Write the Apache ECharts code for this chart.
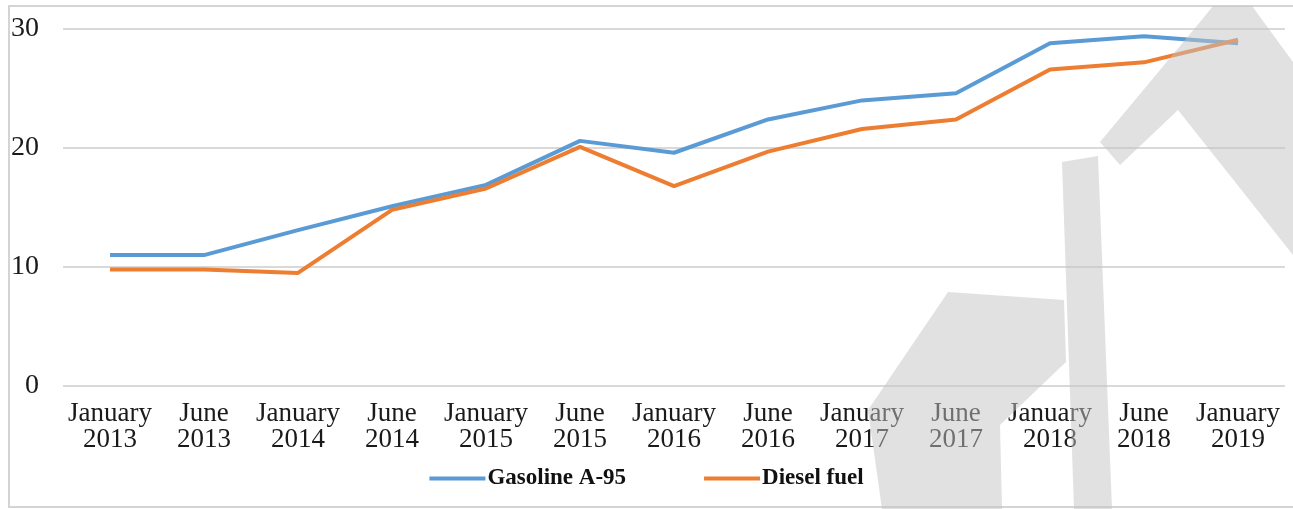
<!DOCTYPE html>
<html>
<head>
<meta charset="utf-8">
<script src="https://cdn.jsdelivr.net/npm/echarts@6/dist/echarts.min.js"></script>
<style>
  html, body { margin: 0; padding: 0; background: #ffffff; }
  #chart { width: 1293px; height: 509px; }
</style>
</head>
<body>
<div id="chart"></div>
<script>
// Fuel prices, January 2013 – January 2019
const categories = [
  'January\n2013', 'June\n2013', 'January\n2014', 'June\n2014', 'January\n2015',
  'June\n2015', 'January\n2016', 'June\n2016', 'January\n2017', 'June\n2017',
  'January\n2018', 'June\n2018', 'January\n2019'
];
const gasolineA95 = [11.0, 11.0, 13.1, 15.1, 16.9, 20.6, 19.6, 22.4, 24.0, 24.6, 28.8, 29.4, 28.8];
const dieselFuel  = [9.8, 9.8, 9.5, 14.8, 16.6, 20.1, 16.8, 19.7, 21.6, 22.4, 26.6, 27.2, 29.1];
const yTicks = { min: 0, max: 30, interval: 10 };

const serif = '"Liberation Serif", "Times New Roman", serif';
const chart = echarts.init(document.getElementById('chart'), null, { renderer: 'canvas' });

// Light translucent watermark strokes laid over the plot
const wmStyle = { fill: 'rgba(196,196,196,0.5)' };
const watermark = [
  [[1213, 6], [1252, 6], [1293, 62], [1293, 255], [1178, 110], [1120, 165], [1100, 142], [1200, 22]],
  [[1062, 162], [1098, 156], [1112, 509], [1074, 509]],
  [[948, 292], [1064, 300], [1066, 362], [1000, 425], [1002, 509], [882, 509], [868, 410]]
].map(pts => ({
  type: 'polygon', z: 100, silent: true,
  shape: { points: pts }, style: wmStyle
}));

chart.setOption({
  animation: false,
  backgroundColor: '#ffffff',
  color: ['#5b9bd5', '#ed7d31'],
  grid: { left: 63, right: 8, top: 29, bottom: 123, containLabel: false },
  legend: {
    bottom: 14, left: 'center',
    icon: 'rect', itemWidth: 56, itemHeight: 4, itemGap: 78,
    textStyle: { fontFamily: serif, fontSize: 23, fontWeight: 'bold', color: '#111', padding: [0, 0, 0, -3] },
    data: ['Gasoline A-95', 'Diesel fuel']
  },
  xAxis: {
    type: 'category', data: categories, boundaryGap: true,
    axisLine: { show: false }, axisTick: { show: false },
    axisLabel: { interval: 0, margin: 15, fontFamily: serif, fontSize: 27, lineHeight: 26, color: '#1a1a1a' }
  },
  yAxis: {
    type: 'value', min: yTicks.min, max: yTicks.max, interval: yTicks.interval,
    axisLine: { show: false }, axisTick: { show: false },
    axisLabel: { margin: 24, fontFamily: serif, fontSize: 28, color: '#1a1a1a' },
    splitLine: { lineStyle: { color: '#d9d9d9', width: 2 } }
  },
  series: [
    { name: 'Gasoline A-95', type: 'line', data: gasolineA95, symbol: 'none',
      lineStyle: { width: 4, color: '#5b9bd5' } },
    { name: 'Diesel fuel', type: 'line', data: dieselFuel, symbol: 'none',
      lineStyle: { width: 4, color: '#ed7d31' } }
  ],
  graphic: [
    { type: 'rect', z: 99, silent: true,
      shape: { x: 9, y: 6, width: 1300, height: 501 },
      style: { fill: 'none', stroke: '#d4d4d4', lineWidth: 2 } }
  ].concat(watermark)
});
</script>
</body>
</html>
